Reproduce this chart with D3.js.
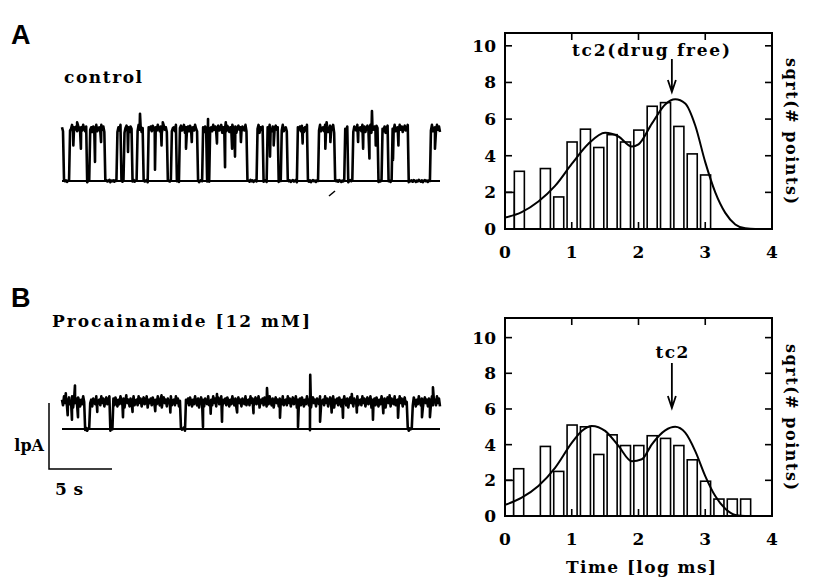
<!DOCTYPE html>
<html>
<head>
<meta charset="utf-8">
<script src="https://cdn.jsdelivr.net/npm/d3@7"></script>
<style>
  body { margin: 0; background: #fff; }
  text { fill: #000; }
</style>
</head>
<body>
<script>

// ---- histogram data (sqrt of # points per log-time bin) ----
var binWidth = 0.15;
var binLeftA = [-0.01, 0.14, 0.53, 0.73, 0.93, 1.13, 1.33, 1.53, 1.73, 1.93, 2.13, 2.33, 2.53, 2.73, 2.93];
var countA   = [2.0, 3.15, 3.3, 1.75, 4.75, 5.45, 4.45, 5.15, 4.75, 5.4, 6.7, 6.9, 5.6, 4.1, 2.95];
var binLeftB = [-0.02, 0.13, 0.53, 0.73, 0.93, 1.13, 1.33, 1.53, 1.73, 1.93, 2.13, 2.33, 2.53, 2.73, 2.93, 3.13, 3.33, 3.53];
var countB   = [2.0, 2.65, 3.9, 2.5, 5.1, 5.0, 3.45, 4.55, 3.95, 3.95, 4.5, 4.35, 3.95, 3.15, 1.95, 0.95, 0.95, 0.95];

// fitted curves
var fitXA = [0, 0.25, 0.5, 0.75, 1.0, 1.25, 1.5, 1.7, 1.9, 2.0, 2.2, 2.4, 2.55, 2.7, 2.85, 3.0, 3.15, 3.3, 3.45, 3.6, 3.75, 4.0];
var fitYA = [0.62, 0.92, 1.5, 2.35, 3.55, 4.65, 5.25, 5.05, 4.5, 4.62, 5.75, 6.8, 7.08, 6.85, 5.65, 3.65, 2.0, 0.88, 0.25, 0.04, 0, 0];
var fitXB = [0, 0.25, 0.5, 0.75, 1.0, 1.15, 1.3, 1.5, 1.7, 1.9, 2.05, 2.2, 2.4, 2.55, 2.7, 2.85, 3.0, 3.15, 3.3, 3.45, 3.6, 4.0];
var fitYB = [0.62, 1.03, 1.68, 2.7, 4.1, 4.77, 5.05, 4.77, 3.93, 3.07, 3.18, 4.02, 4.8, 5.0, 4.67, 3.64, 2.24, 1.12, 0.41, 0.06, 0, 0];

var xTicks = [0, 1, 2, 3, 4];
var yTicks = [0, 2, 4, 6, 8, 10];
var tc2 = 2.5;

// ---- single channel records (time in s, current in pA) ----
var openA = 0.79;
var closuresA = [[0.16, 0.56], [1.98, 2.22], [3.41, 4.37], [4.68, 4.92], [5.56, 5.95], [6.43, 6.83],
  [8.33, 8.65], [9.05, 9.29], [10.79, 11.19], [11.51, 11.75], [14.68, 15.48], [15.95, 16.27],
  [17.14, 17.38], [17.86, 18.65], [19.52, 20.32], [21.67, 22.46], [22.7, 23.1], [25.08, 25.4],
  [25.87, 26.19], [27.46, 29.21]];
var flickersA = [[0.9, 0.25], [1.5, 0.3], [2.62, 0.5], [3.1, 0.2], [5.24, 0.35], [7.38, 0.62],
  [7.9, 0.25], [9.84, 0.3], [10.3, 0.2], [12.3, 0.22], [12.94, 0.58], [13.5, 0.3], [13.73, 0.42],
  [14.2, 0.2], [16.51, 0.42], [16.8, 0.25], [19.1, 0.22], [20.9, 0.3], [21.3, 0.2], [23.5, 0.2],
  [23.9, 0.3], [24.4, 0.45], [24.9, 0.25], [26.27, 0.47], [26.7, 0.25], [29.6, 0.3]];
var spikesA = [[1.2, 0.1], [6.19, 0.23], [8.0, 0.1], [11.59, 0.15], [13.0, 0.1], [21.0, 0.1], [24.6, 0.27]];

var openB = 0.41;
var closuresB = [[1.83, 2.22], [3.81, 4.05], [9.37, 9.76], [27.38, 27.78]];
var flickersB = [[0.45, 0.2], [0.79, 0.27], [1.27, 0.23], [2.8, 0.15], [4.84, 0.23], [5.6, 0.15],
  [7.4, 0.14], [8.6, 0.16], [11.19, 0.38], [11.8, 0.18], [12.7, 0.3], [13.9, 0.16], [15.2, 0.17],
  [17.3, 0.24], [18.73, 0.38], [19.68, 0.43], [20.48, 0.3], [21.4, 0.16], [22.3, 0.24],
  [23.4, 0.16], [24.68, 0.27], [25.5, 0.17], [26.67, 0.24], [28.57, 0.23], [29.2, 0.23]];
var spikesB = [[0.3, 0.13], [1.03, 0.25], [5.1, 0.1], [7.9, 0.1], [12.3, 0.12], [16.27, 0.21],
  [19.7, 0.41], [23.0, 0.12], [26.0, 0.1], [29.44, 0.22]];

var noise = [0.4, -0.6, 1.0, -0.2, 0.6, -0.8, 0.2, 0.8, -0.4, 0.0, 1.0, -1.0, 0.4, -0.2, 0.6,
  -0.6, 0.8, 0.2, -0.8, 0.4, -0.4, 1.0, 0.0, -0.6, 0.6, -1.0, 0.2, 0.8, -0.2, 0.4, -0.8, 0.6,
  0.0, -0.4, 1.0, -0.6, 0.2];

var width = 819, height = 582;
var serif = "'DejaVu Serif', serif";

var svg = d3.select('body')
  .append('svg')
    .attr('width', width)
    .attr('height', height);

// panel letters and titles
svg.append('text').attr('x', 11).attr('y', 44)
  .style('font-family', "'Liberation Sans', Arial, sans-serif")
  .style('font-weight', 'bold').style('font-size', '27px').text('A');
svg.append('text').attr('x', 11).attr('y', 307)
  .style('font-family', "'Liberation Sans', Arial, sans-serif")
  .style('font-weight', 'bold').style('font-size', '27px').text('B');

svg.append('text').attr('x', 64).attr('y', 83)
  .style('font-family', serif).style('font-weight', 'bold').style('font-size', '17px')
  .attr('textLength', 78).attr('lengthAdjust', 'spacing').text('control');
svg.append('text').attr('x', 52).attr('y', 327)
  .style('font-family', serif).style('font-weight', 'bold').style('font-size', '17px')
  .attr('textLength', 258).attr('lengthAdjust', 'spacing').text('Procainamide [12 mM]');

// ---- traces ----
var xTrace = d3.scaleLinear().domain([0, 30]).range([62, 440]);

function buildTrace(open, closures, flickers, spikes, amp) {
  var pts = [];
  var dt = 0.08;
  for (var i = 0; i * dt <= 30; i++) {
    var t = i * dt;
    var shut = closures.some(function(c) { return t >= c[0] && t <= c[1]; });
    var v = shut ? noise[i % noise.length] * amp * 0.3 : open + noise[i % noise.length] * amp;
    pts.push([t, v]);
  }
  flickers.forEach(function(f) { pts.push([f[0], open - f[1]]); });
  spikes.forEach(function(s) { pts.push([s[0], open + s[1]]); });
  pts.sort(function(a, b) { return a[0] - b[0]; });
  return pts;
}

function drawTrace(base, open, closures, flickers, spikes, amp, sw) {
  var yTrace = d3.scaleLinear().domain([0, 1]).range([base, base - 66]);
  svg.append('line')
    .attr('x1', xTrace(0)).attr('x2', xTrace(30))
    .attr('y1', yTrace(0)).attr('y2', yTrace(0))
    .style('stroke', '#000').style('stroke-width', 2);
  var line = d3.line()
    .x(function(d) { return xTrace(d[0]); })
    .y(function(d) { return yTrace(d[1]); });
  svg.append('path')
    .datum(buildTrace(open, closures, flickers, spikes, amp))
    .attr('d', line)
    .style('fill', 'none')
    .style('stroke', '#000')
    .style('stroke-width', sw)
    .style('stroke-linejoin', 'round');
  return yTrace;
}

drawTrace(181, openA, closuresA, flickersA, spikesA, 0.06, 2.6);
var yTraceB = drawTrace(429, openB, closuresB, flickersB, spikesB, 0.085, 2.6);

// stray pen mark under trace A
svg.append('line').attr('x1', 329).attr('y1', 196).attr('x2', 335).attr('y2', 191)
  .style('stroke', '#000').style('stroke-width', 1.5);

// scale bar: 1 pA, 5 s
var sbX = 49, sbY = 469;
svg.append('path')
  .attr('d', 'M' + sbX + ',' + (sbY - (yTraceB(0) - yTraceB(1))) + 'V' + sbY +
             'H' + (sbX + xTrace(5) - xTrace(0)))
  .style('fill', 'none').style('stroke', '#000').style('stroke-width', 1.5);
svg.append('text').attr('x', 44).attr('y', 451).attr('text-anchor', 'end')
  .style('font-family', serif).style('font-weight', 'bold').style('font-size', '16px')
  .text('lpA');
svg.append('text').attr('x', 55).attr('y', 495)
  .style('font-family', serif).style('font-weight', 'bold').style('font-size', '17px')
  .attr('textLength', 28).attr('lengthAdjust', 'spacing')
  .text('5 s');

// ---- histograms ----
function histogram(top, bottom, ymax, binLeft, counts, fitX, fitY, label, labelY, arrowTop, arrowTip, id) {
  var x = d3.scaleLinear().domain([0, 4]).range([505, 772]);
  var y = d3.scaleLinear().domain([0, ymax]).range([bottom, top]);
  var g = svg.append('g');

  g.append('clipPath').attr('id', id)
    .append('rect').attr('x', x(0)).attr('y', y(ymax)).attr('width', x(4) - x(0)).attr('height', y(0) - y(ymax));

  var plot = g.append('g').attr('clip-path', 'url(#' + id + ')');

  plot.selectAll('rect.bar')
    .data(counts)
    .enter()
    .append('rect')
      .attr('class', 'bar')
      .attr('x', function(d, i) { return x(binLeft[i]); })
      .attr('y', function(d) { return y(d); })
      .attr('width', x(binWidth) - x(0))
      .attr('height', function(d) { return y(0) - y(d); })
      .style('fill', '#fff')
      .style('stroke', '#000')
      .style('stroke-width', 1.6);

  var curve = d3.line()
    .x(function(d, i) { return x(fitX[i]); })
    .y(function(d) { return y(d); })
    .curve(d3.curveMonotoneX);
  plot.append('path')
    .datum(fitY)
    .attr('d', curve)
    .style('fill', 'none').style('stroke', '#000').style('stroke-width', 2);

  // frame with inward ticks
  g.append('rect')
    .attr('x', x(0)).attr('y', y(ymax)).attr('width', x(4) - x(0)).attr('height', y(0) - y(ymax))
    .style('fill', 'none').style('stroke', '#000').style('stroke-width', 2);

  var tl = 7;
  [1, 2, 3].forEach(function(v) {
    g.append('line').attr('x1', x(v)).attr('x2', x(v)).attr('y1', y(0)).attr('y2', y(0) - tl)
      .style('stroke', '#000').style('stroke-width', 1.6);
    g.append('line').attr('x1', x(v)).attr('x2', x(v)).attr('y1', y(ymax)).attr('y2', y(ymax) + tl)
      .style('stroke', '#000').style('stroke-width', 1.6);
  });
  [2, 4, 6, 8, 10].forEach(function(v) {
    g.append('line').attr('x1', x(0)).attr('x2', x(0) + tl).attr('y1', y(v)).attr('y2', y(v))
      .style('stroke', '#000').style('stroke-width', 1.6);
    g.append('line').attr('x1', x(4)).attr('x2', x(4) - tl).attr('y1', y(v)).attr('y2', y(v))
      .style('stroke', '#000').style('stroke-width', 1.6);
  });

  g.selectAll('text.xt')
    .data(xTicks)
    .enter()
    .append('text')
      .attr('class', 'xt')
      .attr('x', function(d) { return x(d); })
      .attr('y', y(0) + 29)
      .attr('text-anchor', 'middle')
      .style('font-family', serif).style('font-weight', 'bold').style('font-size', '17px')
      .text(function(d) { return d; });

  g.selectAll('text.yt')
    .data(yTicks)
    .enter()
    .append('text')
      .attr('class', 'yt')
      .attr('x', x(0) - 9)
      .attr('y', function(d) { return y(d) + 6; })
      .attr('text-anchor', 'end')
      .style('font-family', serif).style('font-weight', 'bold').style('font-size', '17px')
      .text(function(d) { return d; });

  g.append('text')
    .attr('transform', 'translate(786,' + (top + bottom) / 2 + ') rotate(90)')
    .attr('text-anchor', 'middle')
    .style('font-family', serif).style('font-weight', 'bold').style('font-size', '16px')
    .attr('textLength', 146).attr('lengthAdjust', 'spacing')
    .text('sqrt(# points)');

  // tc2 label and arrow
  g.append('text')
    .attr('x', label.length > 3 ? 651 : x(tc2))
    .attr('y', labelY)
    .attr('text-anchor', 'middle')
    .style('font-family', serif).style('font-weight', 'bold').style('font-size', '17px')
    .attr('textLength', label.length > 3 ? 158 : 33).attr('lengthAdjust', 'spacing')
    .text(label);
  g.append('path')
    .attr('d', 'M' + x(tc2) + ',' + arrowTop + 'V' + arrowTip +
               'M' + (x(tc2) - 4) + ',' + (arrowTip - 12) + 'L' + x(tc2) + ',' + arrowTip +
               'L' + (x(tc2) + 4) + ',' + (arrowTip - 12))
    .style('fill', 'none').style('stroke', '#000').style('stroke-width', 1.8);
}

histogram(33, 229, 10.7, binLeftA, countA, fitXA, fitYA, 'tc2(drug free)', 56, 59, 92, 'clipA');
histogram(318, 516, 11.1, binLeftB, countB, fitXB, fitYB, 'tc2', 358, 363, 408, 'clipB');

svg.append('text').attr('x', 641).attr('y', 573).attr('text-anchor', 'middle')
  .style('font-family', serif).style('font-weight', 'bold').style('font-size', '17px')
  .attr('textLength', 150).attr('lengthAdjust', 'spacing')
  .text('Time [log ms]');

</script>
</body>
</html>
